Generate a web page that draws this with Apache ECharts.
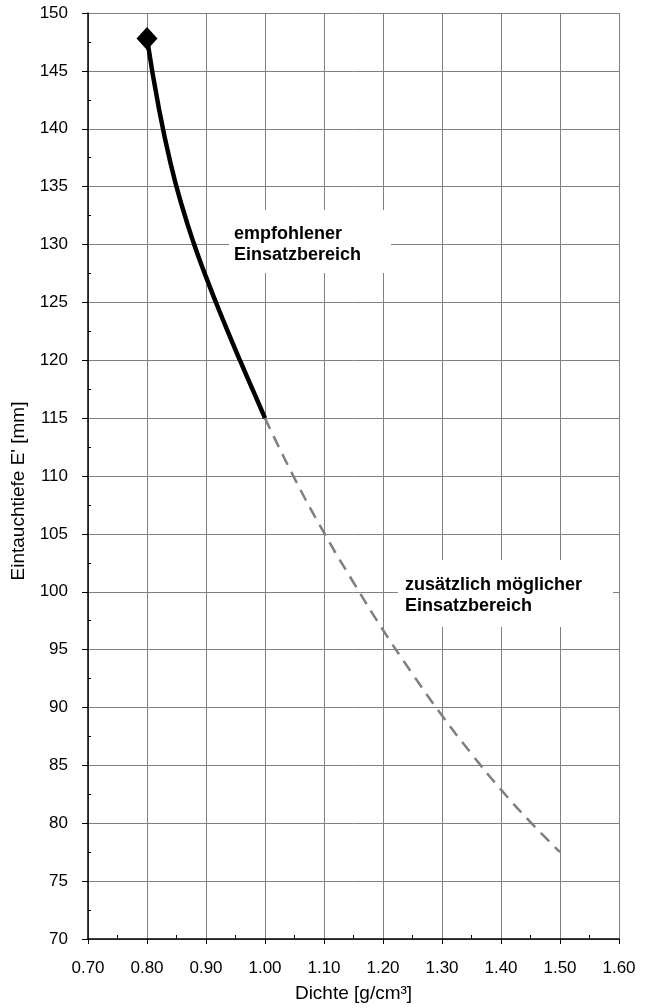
<!DOCTYPE html>
<html><head><meta charset="utf-8">
<script src="https://cdn.jsdelivr.net/npm/echarts@6/dist/echarts.min.js"></script>
<style>html,body{margin:0;padding:0;background:#fff}#c{width:652px;height:1008px}</style>
</head><body><div id="c"></div>
<script>
var xTicks = [0.70,0.80,0.90,1.00,1.10,1.20,1.30,1.40,1.50,1.60];
var yTicks = [70,75,80,85,90,95,100,105,110,115,120,125,130,135,140,145,150];
var recX = [0.80,0.82,0.84,0.86,0.88,0.90,0.92,0.94,0.96,0.98,1.00];
var recY = [147.8,141.8,137.0,133.2,130.0,127.2,124.6,122.1,119.7,117.35,115];
var addX = [1.00,1.05,1.10,1.15,1.20,1.25,1.30,1.35,1.40,1.45,1.50];
var addY = [115,109.8,105.1,100.8,96.7,92.9,89.3,86.0,82.9,80.1,77.5];
var markerPt = [[0.80,147.8]];
var labelRec = 'empfohlener\nEinsatzbereich';
var labelAdd = 'zusätzlich möglicher\nEinsatzbereich';

var font = 'Liberation Sans, Arial, sans-serif';
var chart = echarts.init(document.getElementById('c'));
function zip(a,b){return a.map(function(v,i){return [v,b[i]];});}
chart.setOption({
  animation:false,
  grid:{left:88,right:33,top:13,bottom:68,containLabel:false},
  xAxis:{type:'value',min:0.7,max:1.6,interval:0.1,
    name:'Dichte [g/cm³]',nameLocation:'middle',nameGap:45,
    nameTextStyle:{fontFamily:font,fontSize:19,color:'#000'},
    axisLine:{lineStyle:{color:'#000',width:1.5}},
    axisTick:{show:true,length:5,lineStyle:{color:'#000'}},
    minorTick:{show:true,splitNumber:2,length:-4,lineStyle:{color:'#000'}},
    axisLabel:{fontFamily:font,fontSize:17,color:'#000',margin:21,formatter:function(v){return v.toFixed(2);}},
    splitLine:{show:true,lineStyle:{color:'#7f7f7f',width:1}}
  },
  yAxis:{type:'value',min:70,max:150,interval:5,
    name:"Eintauchtiefe E' [mm]",nameLocation:'middle',nameGap:54,
    nameTextStyle:{fontFamily:font,fontSize:19,color:'#000',padding:[0,30,0,0]},
    axisLine:{show:true,lineStyle:{color:'#000',width:1.5}},
    axisTick:{show:true,length:6,lineStyle:{color:'#000'}},
    minorTick:{show:true,splitNumber:2,length:-3,lineStyle:{color:'#000'}},
    axisLabel:{fontFamily:font,fontSize:17,color:'#000',margin:20},
    splitLine:{show:true,lineStyle:{color:'#7f7f7f',width:1}}
  },
  series:[
    {type:'line',data:zip(addX,addY),smooth:true,symbol:'none',
      lineStyle:{color:'#7f7f7f',width:2.5,type:[12,8]},z:3},
    {type:'line',data:zip(recX,recY),smooth:true,symbol:'none',
      lineStyle:{color:'#000',width:4.5},z:4},
    {type:'scatter',data:markerPt,symbol:'diamond',symbolSize:[21,23],
      itemStyle:{color:'#000',opacity:1},z:5}
  ],
  graphic:[
    {type:'rect',shape:{x:229,y:210,width:162,height:63},style:{fill:'#fff'},z:10},
    {type:'text',x:234,y:224,style:{text:labelRec,font:'bold 18px '+font,fill:'#000',lineHeight:21},z:11},
    {type:'rect',shape:{x:398,y:560,width:215,height:67},style:{fill:'#fff'},z:10},
    {type:'text',x:405,y:575,style:{text:labelAdd,font:'bold 18px '+font,fill:'#000',lineHeight:21},z:11}
  ]
});
</script></body></html>
